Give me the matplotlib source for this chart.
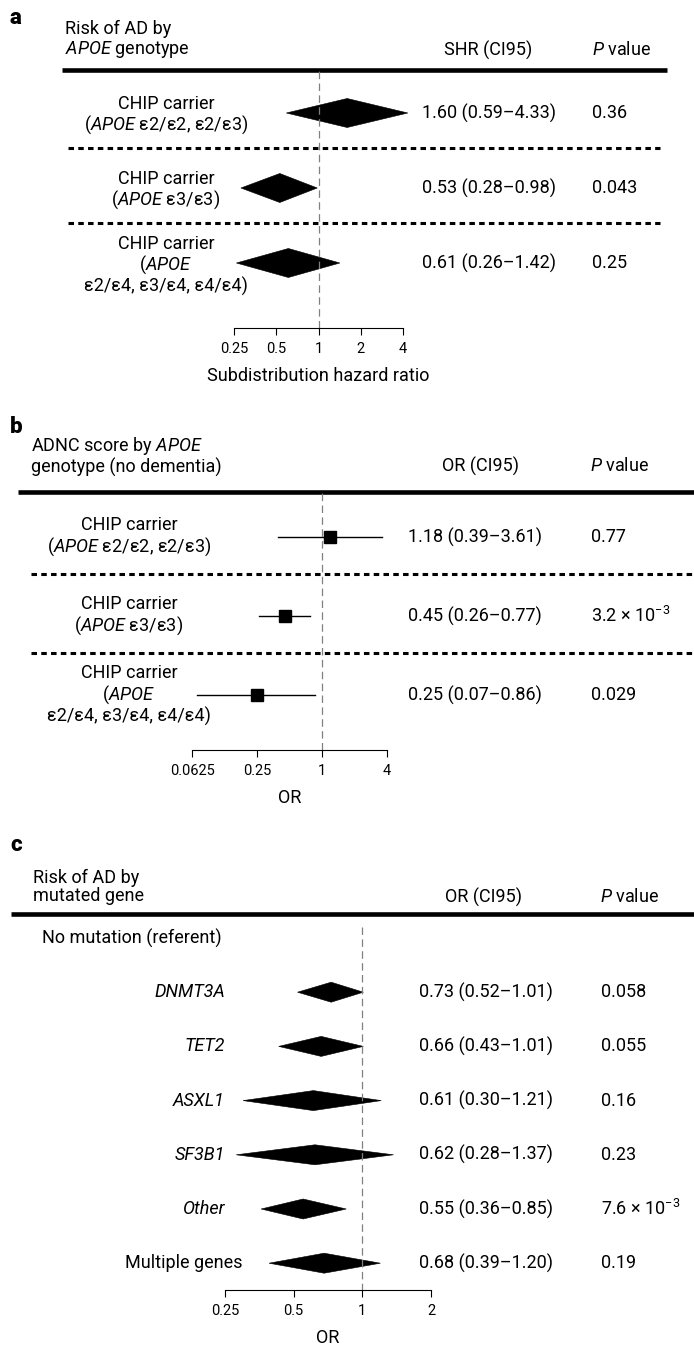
import numpy as np
import matplotlib
matplotlib.use("Agg")
import matplotlib.pyplot as plt
from matplotlib.patches import Polygon
from matplotlib.transforms import blended_transform_factory

plt.rcParams["font.family"] = ["Roboto", "DejaVu Sans"]
plt.rcParams["mathtext.fontset"] = "custom"
plt.rcParams["mathtext.rm"] = "Roboto"
plt.rcParams["mathtext.it"] = "Roboto:italic"
plt.rcParams["mathtext.bf"] = "Roboto:bold"

# panel a: risk of AD by APOE genotype (subdistribution hazard ratio)
apoe_groups = [
    "CHIP carrier\n($\\mathit{APOE}$ ε2/ε2, ε2/ε3)",
    "CHIP carrier\n($\\mathit{APOE}$ ε3/ε3)",
    "CHIP carrier\n($\\mathit{APOE}$\nε2/ε4, ε3/ε4, ε4/ε4)",
]
shr_est = [1.60, 0.53, 0.61]
shr_lo = [0.59, 0.28, 0.26]
shr_hi = [4.33, 0.98, 1.42]
shr_p = ["0.36", "0.043", "0.25"]
shr_ticks = [0.25, 0.5, 1, 2, 4]
shr_ticklabels = ["0.25", "0.5", "1", "2", "4"]

# panel b: ADNC score by APOE genotype, no dementia (odds ratio)
adnc_est = [1.18, 0.45, 0.25]
adnc_lo = [0.39, 0.26, 0.07]
adnc_hi = [3.61, 0.77, 0.86]
adnc_p = ["0.77", "3.2 × $10^{-3}$", "0.029"]
adnc_ticks = [0.0625, 0.25, 1, 4]
adnc_ticklabels = ["0.0625", "0.25", "1", "4"]

# panel c: risk of AD by mutated gene (odds ratio)
genes = ["No mutation (referent)", "DNMT3A", "TET2", "ASXL1", "SF3B1", "Other",
         "Multiple genes"]
gene_est = [np.nan, 0.73, 0.66, 0.61, 0.62, 0.55, 0.68]
gene_lo = [np.nan, 0.52, 0.43, 0.30, 0.28, 0.36, 0.39]
gene_hi = [np.nan, 1.01, 1.01, 1.21, 1.37, 0.85, 1.20]
gene_p = ["", "0.058", "0.055", "0.16", "0.23", "7.6 × $10^{-3}$", "0.19"]
gene_ticks = [0.25, 0.5, 1, 2]
gene_ticklabels = ["0.25", "0.5", "1", "2"]

W, H = 694, 1351
FS = 13
LS = 1.05

fig = plt.figure(figsize=(W / 100, H / 100), dpi=100)
page = fig.add_axes([0, 0, 1, 1])
page.set_xlim(0, W)
page.set_ylim(H, 0)
page.axis("off")


def forest_axes(left, right, top, bottom, row0, step, ticks, ticklabels, xlabel):
    ax = fig.add_axes([left / W, 1 - bottom / H, (right - left) / W, (bottom - top) / H])
    ax.set_facecolor("none")
    ax.set_xscale("log", base=2)
    ax.set_xlim(ticks[0], ticks[-1])
    ax.set_ylim((bottom - row0) / step, (top - row0) / step)
    for s in ("top", "left", "right"):
        ax.spines[s].set_visible(False)
    ax.spines["bottom"].set_bounds(ticks[0], ticks[-1])
    ax.spines["bottom"].set_linewidth(0.8)
    ax.set_xticks(ticks, labels=ticklabels)
    ax.minorticks_off()
    ax.set_yticks([])
    ax.tick_params(axis="x", length=5, width=0.8, pad=5, labelsize=10.5)
    ax.set_xlabel(xlabel, fontsize=FS, labelpad=8)
    return ax


def header(letter, ly, lines, lx, ly1, col_x, col_title, p_x, line_y, line_x0, line_x1):
    page.text(10, ly, letter, fontsize=16, fontweight="heavy", va="center", ha="left")
    page.text(lx, ly1, lines, fontsize=FS, va="center", ha="left", linespacing=LS)
    page.text(col_x, ly1 + 10, col_title, fontsize=FS, va="center", ha="center")
    page.text(p_x, ly1 + 10, "$\\mathit{P}$ value", fontsize=FS, va="center", ha="left")
    page.plot([line_x0, line_x1], [line_y, line_y], color="black", lw=3.3,
              solid_capstyle="butt")


def diamond(ax, i, est, lo, hi, half):
    ax.add_patch(Polygon([(lo, i), (est, i - half), (hi, i), (est, i + half)],
                         closed=True, fc="black", ec="black", lw=0.4, clip_on=False))


def separators(ax, trans, n, x0, x1):
    for k in range(n - 1):
        ax.plot([x0, x1], [k + 0.47, k + 0.47], transform=trans, color="black", lw=2.2,
                ls=(0, (1.8, 1.4)), dash_capstyle="butt", clip_on=False)


# ---- panel a
header("a", 18, "Risk of AD by\n$\\mathit{APOE}$ genotype", 65, 40, 488,
       "SHR (CI95)", 592, 70, 62, 667)
axa = forest_axes(234, 403, 70, 328, 113, 75, shr_ticks, shr_ticklabels,
                  "Subdistribution hazard ratio")
ta = blended_transform_factory(page.transData, axa.transData)
axa.axvline(1, color="#808080", lw=0.9, ls=(0, (6, 3.5)))
separators(axa, ta, len(apoe_groups), 68, 660)
for i, lab in enumerate(apoe_groups):
    diamond(axa, i, shr_est[i], shr_lo[i], shr_hi[i], 14.5 / 75)
    axa.text(166, i + 0.03, lab, transform=ta, ha="center", va="center", fontsize=FS,
             multialignment="center", linespacing=LS)
    axa.text(422, i, f"{shr_est[i]:.2f} ({shr_lo[i]:.2f}–{shr_hi[i]:.2f})",
             transform=ta, ha="left", va="center", fontsize=FS)
    axa.text(592, i, shr_p[i], transform=ta, ha="left", va="center", fontsize=FS)

# ---- panel b
header("b", 427, "ADNC score by $\\mathit{APOE}$\ngenotype (no dementia)", 31, 456,
       481, "OR (CI95)", 590, 492, 18, W)
axb = forest_axes(192, 387, 492, 750, 537, 79, adnc_ticks, adnc_ticklabels, "OR")
tb = blended_transform_factory(page.transData, axb.transData)
axb.axvline(1, color="#808080", lw=0.9, ls=(0, (6, 3.5)))
separators(axb, tb, len(apoe_groups), 31, W)
for i, lab in enumerate(apoe_groups):
    axb.plot([adnc_lo[i], adnc_hi[i]], [i, i], color="black", lw=1.0, clip_on=False)
    axb.plot(adnc_est[i], i, marker="s", ms=9.3, color="black", clip_on=False)
    axb.text(129, i, lab, transform=tb, ha="center", va="center", fontsize=FS,
             multialignment="center", linespacing=LS)
    axb.text(408, i, f"{adnc_est[i]:.2f} ({adnc_lo[i]:.2f}–{adnc_hi[i]:.2f})",
             transform=tb, ha="left", va="center", fontsize=FS)
    axb.text(591, i, adnc_p[i], transform=tb, ha="left", va="center", fontsize=FS)

# ---- panel c
header("c", 845, "Risk of AD by\nmutated gene", 33, 887, 484, "OR (CI95)", 600, 914,
       11, W)
axc = forest_axes(225, 431, 914, 1290, 938, 54.2, gene_ticks, gene_ticklabels, "OR")
tc = blended_transform_factory(page.transData, axc.transData)
axc.vlines(1, -0.2, axc.get_ylim()[0], color="#808080", lw=0.9, ls=(0, (6, 3.5)))
for i, g in enumerate(genes):
    if i == 0:
        axc.text(42, i, g, transform=tc, ha="left", va="center", fontsize=FS)
        continue
    diamond(axc, i, gene_est[i], gene_lo[i], gene_hi[i], 10 / 54.2)
    pooled = g == "Multiple genes"
    axc.text(243 if pooled else 225, i, g, transform=tc, ha="right", va="center",
             fontsize=FS, style="normal" if pooled else "italic")
    axc.text(419, i, f"{gene_est[i]:.2f} ({gene_lo[i]:.2f}–{gene_hi[i]:.2f})",
             transform=tc, ha="left", va="center", fontsize=FS)
    axc.text(601, i, gene_p[i], transform=tc, ha="left", va="center", fontsize=FS)

fig.savefig("out.png", dpi=100)
